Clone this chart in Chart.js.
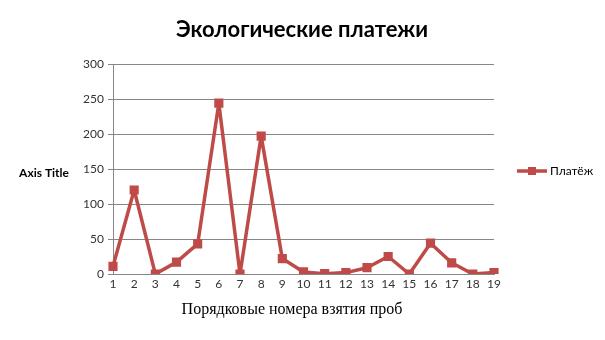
<!DOCTYPE html>
<html>
<head>
<meta charset="utf-8">
<script src="https://cdn.jsdelivr.net/npm/chart.js@4"></script>
<style>
  html, body { margin: 0; padding: 0; background: #fff; }
  #wrap { width: 605px; height: 340px; }
</style>
</head>
<body>
<div id="wrap"><canvas id="grafico" width="605" height="340"></canvas></div>
<script>
const categorias = ['1', '2', '3', '4', '5', '6', '7', '8', '9', '10', '11', '12', '13', '14', '15', '16', '17', '18', '19'];
const platezh = [11, 120, 0, 17, 43, 244, 0, 197, 22, 3, 0.5, 2, 9, 25, 0, 44, 16, 0, 2];
const ticksY = [0, 50, 100, 150, 200, 250, 300];

const fonte = 'Lato, "Open Sans", sans-serif';
const corLinha = '#BE4B48';

// textos fixos: titulo, titulo do eixo Y e legenda
const textos = {
  id: 'textos',
  afterDraw(chart) {
    const c = chart.ctx;
    c.save();
    c.fillStyle = '#000';
    c.textBaseline = 'middle';
    c.textAlign = 'center';
    c.font = 'bold 22px ' + fonte;
    c.fillText('Экологические платежи', 302, 30);

    c.font = 'bold 12px ' + fonte;
    c.fillText('Axis Title', 44, 173);

    c.font = '16px "Liberation Serif", serif';
    c.fillText('Порядковые номера взятия проб', 292, 310);

    // legenda
    c.strokeStyle = corLinha;
    c.lineWidth = 3.5;
    c.beginPath();
    c.moveTo(517, 171);
    c.lineTo(547, 171);
    c.stroke();
    c.fillStyle = corLinha;
    c.fillRect(528, 167, 8, 8);
    c.fillStyle = '#000';
    c.textAlign = 'left';
    c.font = '12px ' + fonte;
    c.fillText('Платёж', 550, 171);
    c.restore();
  }
};

new Chart(document.getElementById('grafico'), {
  type: 'line',
  data: {
    labels: categorias,
    datasets: [{
      label: 'Платёж',
      data: platezh,
      borderColor: corLinha,
      backgroundColor: corLinha,
      borderWidth: 3.5,
      borderJoinStyle: 'round',
      pointStyle: 'rect',
      pointRadius: 4,
      tension: 0
    }]
  },
  options: {
    responsive: false,
    animation: false,
    devicePixelRatio: 1,
    layout: { padding: { left: 0, right: 111, top: 64, bottom: 46 } },
    plugins: {
      legend: { display: false },
      title: { display: false },
      tooltip: { enabled: false }
    },
    scales: {
      x: {
        offset: false,
        afterFit(s) { s.height = 20; },
        grid: { display: false, drawTicks: false },
        border: { display: true, color: '#868686', width: 1 },
        ticks: { color: '#333', font: { family: fonte, size: 12 }, padding: 3, maxRotation: 0, autoSkip: false }
      },
      y: {
        min: 0,
        max: 300,
        afterFit(s) { s.width = 113; },
        afterBuildTicks(s) { s.ticks = ticksY.map(v => ({ value: v })); },
        grid: { color: '#868686', lineWidth: 1, tickLength: 5 },
        border: { display: true, color: '#868686', width: 1 },
        ticks: { color: '#333', font: { family: fonte, size: 12 }, padding: 4 }
      }
    }
  },
  plugins: [textos]
});
</script>
</body>
</html>
